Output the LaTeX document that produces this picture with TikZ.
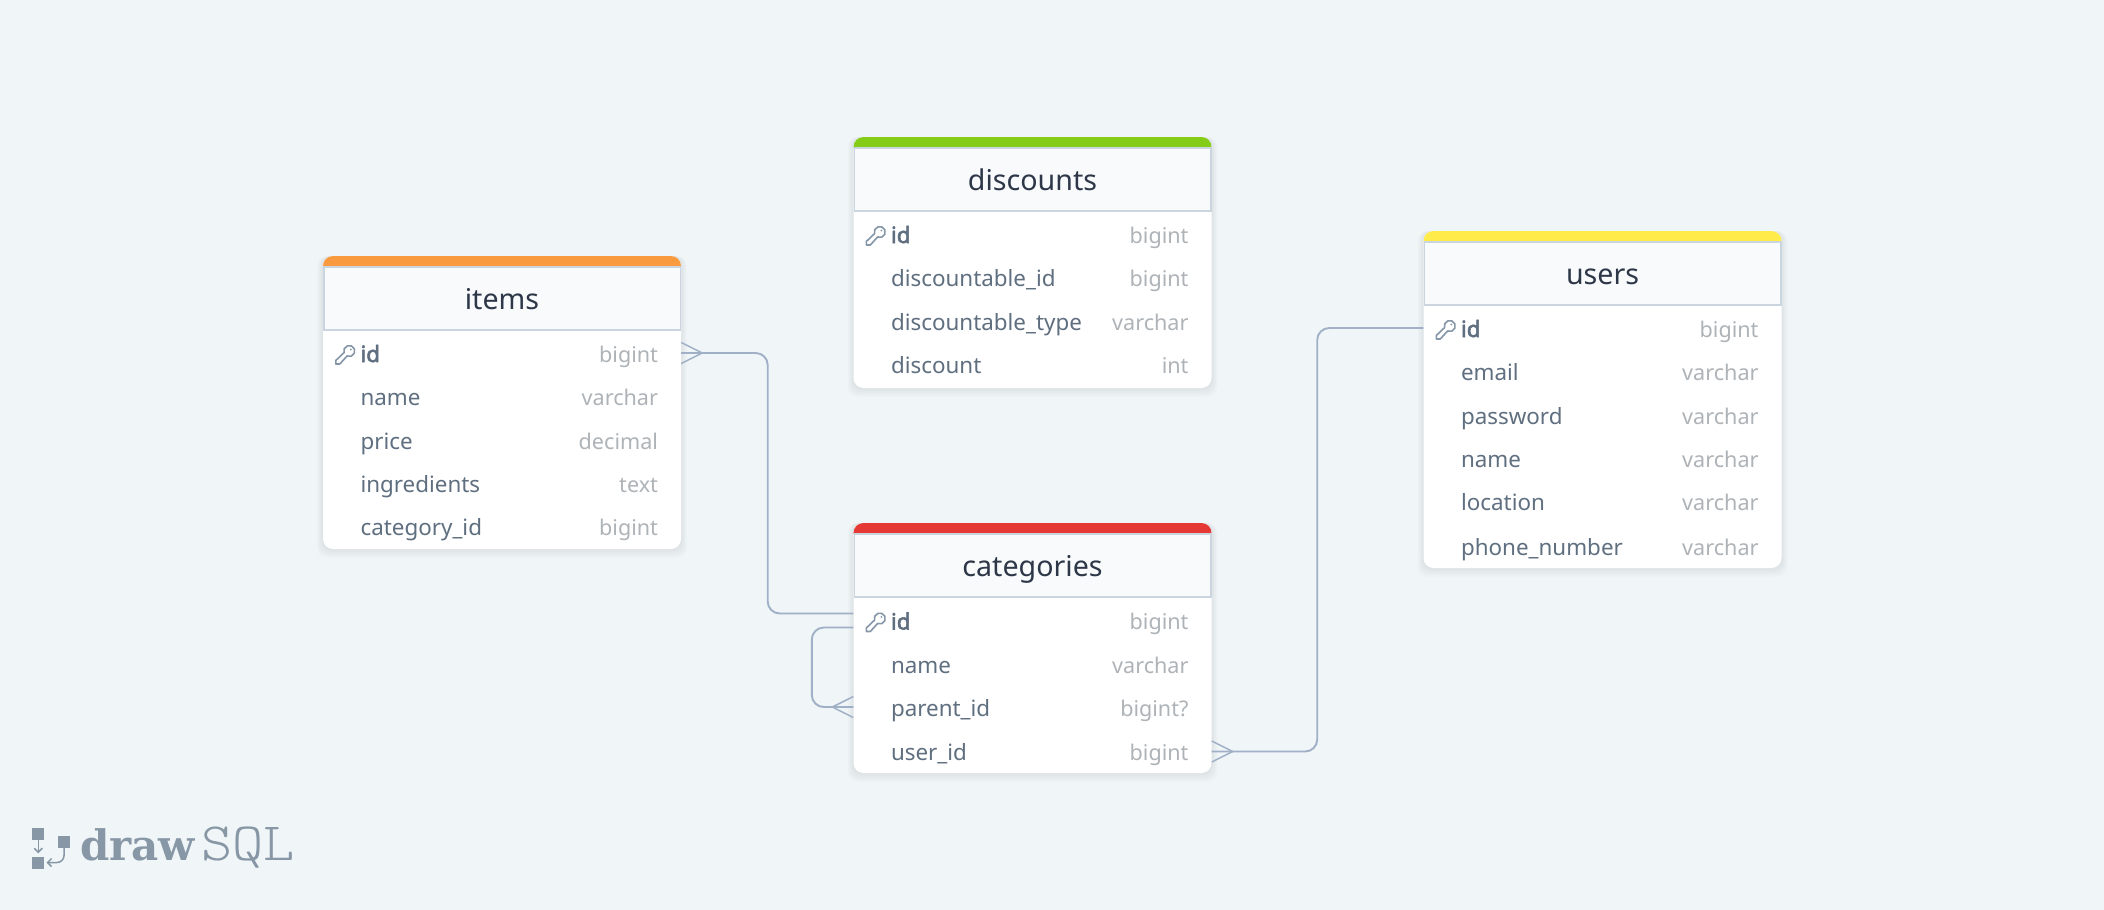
\documentclass[tikz,border=0pt]{standalone}
\usepackage{fontspec}
\setmainfont{Noto Sans}[BoldFont=Noto Sans, BoldFeatures={FakeBold=2.5}]
\newfontfamily\logodrawfont{DejaVu Serif}[Scale=1]
\newfontfamily\logosqlfont{Latin Modern Mono Light}[FakeStretch=1.1]
\usetikzlibrary{arrows.meta}

\definecolor{pagebg}{HTML}{F0F5F8}
\definecolor{headbg}{HTML}{F8FAFC}
\definecolor{headline}{HTML}{CBD5E0}
\definecolor{linkcol}{HTML}{A0B0C6}
\definecolor{titlecol}{HTML}{2D3748}
\definecolor{fieldcol}{HTML}{5F6F80}
\definecolor{kindcol}{HTML}{AEB3B8}
\definecolor{keycol}{HTML}{8496A8}
\definecolor{logocol}{HTML}{8797A5}
\definecolor{barorange}{HTML}{F99A3E}
\definecolor{bargreen}{HTML}{84CC16}
\definecolor{barred}{HTML}{E53935}
\definecolor{baryellow}{HTML}{FFEB4A}

\tikzset{
	tablecard/.style={fill=white, rounded corners=10pt, inner sep=0pt},
	tablehead/.style={fill=headbg, draw=headline, line width=1.5pt},
	tabletitle/.style={anchor=base, inner sep=0pt, text=titlecol, font=\fontsize{28.6}{34}\selectfont},
	rowstrip/.style={minimum width=358pt, minimum height=43pt, inner sep=0pt},
	fieldname/.style={anchor=base west, inner sep=0pt, text=fieldcol, font=\fontsize{22.4}{27}\selectfont},
	fieldkind/.style={anchor=base east, inner sep=0pt, text=kindcol, font=\fontsize{21.6}{27}\selectfont},
	relation/.style={draw=linkcol, line width=1.9pt, rounded corners=12pt},
	crowfoot/.pic={\draw[draw=linkcol, line width=1.5pt] (0,-10.5)--(21,0)--(0,10.5);},
	keyicon/.pic={
		\draw[draw=keycol, line width=1.6pt, line join=round] (2.26,1.02) arc[start angle=114, end angle=-197, radius=5.5]
			--(-9,5.5)--(-9,9)--(-5,9)--cycle;
		\fill[keycol] (6,-5.5) circle (1);
	},
	logosquare/.style={fill=logocol, minimum size=12pt, inner sep=0pt},
	logoarrow/.style={draw=logocol, line width=1.5pt, rounded corners=7pt, -{Straight Barb[length=4pt,width=8pt]}},
}

% rows of one table: name, x of its middle, then key/y/field/kind
\newcommand{\tablerows}[3]{
	\foreach \rowkey/\rowy/\field/\kind in {#3}{
		\node[rowstrip] (#1-\rowkey) at (#2,\rowy) {};
		\node[fieldname] (#1-\rowkey-f) at ([xshift=37.5pt,yshift=-9pt]#1-\rowkey.west) {\field};
		\node[fieldkind] (#1-\rowkey-k) at ([xshift=-23pt,yshift=-9pt]#1-\rowkey.east) {\kind};
	}
	\pic at ([xshift=22pt,yshift=-2pt]#1-id.west) {keyicon};
}

\begin{document}
\begin{tikzpicture}[x=1pt, y=-1pt]
	\fill[pagebg] (0,0) rectangle (2104,910);

	\foreach \tblname/\xl/\ytop/\ybot/\barcol in {items/323/256/549/barorange, discounts/853.5/137/388/bargreen, categories/853.5/523/773/barred, users/1423.5/231/568/baryellow}{
		\foreach \i in {1,...,6}
			\fill[black, opacity=0.012, rounded corners=10pt] (\xl-\i,\ytop) rectangle (\xl+358+\i,\ybot+1.5*\i);
		\node[tablecard, minimum width=358pt, minimum height=\ybot-\ytop] (\tblname) at (\xl+179,{(\ytop+\ybot)/2}) {};
		\begin{scope}
			\clip (\xl,\ytop) rectangle (\xl+358,\ytop+10);
			\fill[\barcol, rounded corners=10pt] (\xl,\ytop) rectangle (\xl+358,\ytop+40);
		\end{scope}
		\draw[tablehead] (\xl+0.75,\ytop+10.75) rectangle (\xl+357.25,\ytop+74);
		\node[tabletitle] (\tblname-title) at (\xl+179,\ytop+53.5) {\tblname};
	}

	\tablerows{items}{502}{id/353/\textbf{id}/bigint, name/396.5/name/varchar, price/440/price/decimal, ingredients/483/ingredients/text, catid/526.5/category\_id/bigint}
	\tablerows{disc}{1032.5}{id/234/\textbf{id}/bigint, did/277.5/discountable\_id/bigint, dtype/321/discountable\_type/varchar, discount/364/discount/int}
	\tablerows{cat}{1032.5}{id/620.5/\textbf{id}/bigint, name/664/name/varchar, parent/707/parent\_id/bigint?, user/751.5/user\_id/bigint}
	\tablerows{users}{1602.5}{id/328/\textbf{id}/bigint, email/371.5/email/varchar, password/415/password/varchar, name/458/name/varchar, location/501.5/location/varchar, phone/546/phone\_number/varchar}

	% connectors
	\draw[relation] (items-id.east) -- ++(86.5,0) |- ([yshift=7pt]cat-id.west);
	\draw[relation] ([yshift=-7pt]cat-id.west) -- ++(-41.5,0) |- (cat-parent.west);
	\draw[relation] (cat-user.east) -- ++(105.5,0) |- (users-id.west);
	\pic at (items-id.east) {crowfoot};
	\pic[xscale=-1] at (cat-parent.west) {crowfoot};
	\pic at (cat-user.east) {crowfoot};

	% logo
	\node[logosquare] (logotop) at (38.3,834) {};
	\node[logosquare] (logobot) at (38.3,862.5) {};
	\node[logosquare] (logoright) at (64,842) {};
	\draw[logoarrow] (logotop) -- ([yshift=3pt]logobot.north);
	\draw[logoarrow] (logoright.south) |- ([xshift=2pt]logobot.east);
	\node[anchor=base west, inner sep=0pt, text=logocol, font=\logodrawfont\bfseries\fontsize{42}{50}\selectfont] (logodraw) at (80,860) {draw};
	\node[anchor=base west, inner sep=0pt, text=logocol, font=\logosqlfont\fontsize{54}{60}\selectfont] (logosql) at (201,860) {SQL};
\end{tikzpicture}
\end{document}
